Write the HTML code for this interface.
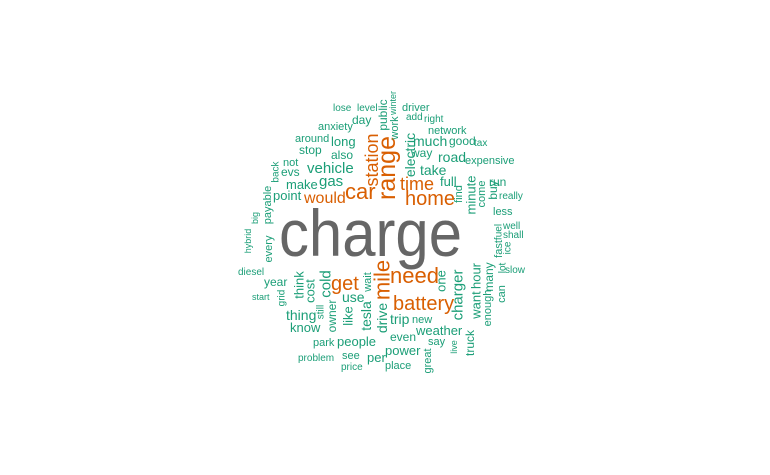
<!DOCTYPE html>
<html><head><meta charset="utf-8">
<style>
html,body{margin:0;padding:0;background:#fff;}
svg{display:block;}
text{font-family:"Liberation Sans",Arial,sans-serif;}
</style></head>
<body>
<svg id="cloud" width="770" height="475" viewBox="0 0 770 475"></svg>
<script>
// word, frequency-size, color class (0 gray,1 orange,2 teal), x, y, rotated
const words = ["charge","range","car","station","home","time","need","battery","mile","get","would",
"lose","level","day","anxiety","around","long","stop","also","not","evs","vehicle","gas","make","point",
"driver","add","right","network","much","good","tax","way","road","expensive","take","full","run","really","less","well","shall","slow",
"diesel","year","start","use","thing","know","park","people","problem","see","per","price","trip","new","weather","even","say","power","place",
"public","work","winter","electric","back","payable","big","hybrid","every","wait","cold","cost","think","grid","still","owner","like","tesla","drive",
"one","charger","hour","want","truck","many","enough","can","lot","fast","ice","fuel","live","great","minute","find","come","buy"];
const sizes = [66,25,22,18,20,18,22,20,22,20,16,
10,10,12,11,11,13,12,12,11,12,15,15,13,13,
11,10,10,11,14,12,10,12,14,11,14,13,12,10,11,10,10,10,
10,12,9,14,14,13,11,13,10,11,13,10,14,11,13,12,11,13,11,
12,11,9,14,10,11,9,9,11,11,15,13,13,10,10,12,13,14,14,
13,15,13,13,12,12,11,11,10,11,10,10,9,11,13,11,11,12];
const colors = [0,1,1,1,1,1,1,1,1,1,1,
2,2,2,2,2,2,2,2,2,2,2,2,2,2,
2,2,2,2,2,2,2,2,2,2,2,2,2,2,2,2,2,2,
2,2,2,2,2,2,2,2,2,2,2,2,2,2,2,2,2,2,2,
2,2,2,2,2,2,2,2,2,2,2,2,2,2,2,2,2,2,2,
2,2,2,2,2,2,2,2,2,2,2,2,2,2,2,2,2,2];
const palette = ["#666666","#D95F02","#1B9E77"];
// layout: [x, y, rot] (horizontal: left/baseline; vertical: center)
const layout = [[279,256,0],[387,168,1],[345,199,0],[372,160,1],[405,205,0],[400,190,0],[390,283,0],[393,310,0],[382,280,1],[331,290,0],[304,203,0],
[333,111,0],[357,111,0],[352,124,0],[318,130,0],[295,142,0],[331,146,0],[299,154,0],[331,159,0],[283,166,0],[281,176,0],[307,173,0],[319,186,0],[286,189,0],[273,200,0],
[402,111,0],[406,120,0],[424,122,0],[428,134,0],[413,146,0],[449,145,0],[474,146,0],[411,157,0],[438,162,0],[465,164,0],[420,175,0],[440,186,0],[489,186,0],[499,199,0],[493,215,0],[503,229,0],[503,238,0],[505,273,0],
[238,275,0],[264,286,0],[252,300,0],[342,302,0],[286,320,0],[290,332,0],[313,346,0],[337,346,0],[298,361,0],[342,359,0],[367,362,0],[341,370,0],[390,324,0],[412,323,0],[416,335,0],[390,341,0],[428,345,0],[385,355,0],[385,369,0],
[383,115,1],[395,128,1],[393,103,1],[410,155,1],[276,172,1],[268,205,1],[255,218,1],[248,241,1],[269,249,1],[368,282,1],[326,284,1],[310,291,1],[299,285,1],[282,298,1],[321,312,1],[332,316,1],[348,316,1],[366,316,1],[382,318,1],
[441,281,1],[458,295,1],[476,276,1],[476,305,1],[470,343,1],[489,277,1],[488,308,1],[502,294,1],[503,268,1],[499,249,1],[508,248,1],[499,232,1],[454,347,1],[428,361,1],[471,195,1],[459,194,1],[482,194,1],[493,190,1]];
const svg = document.getElementById('cloud');
const NS = "http://www.w3.org/2000/svg";
for (let i = 0; i < words.length; i++) {
  const t = document.createElementNS(NS, 'text');
  const [x, y, r] = layout[i];
  t.setAttribute('font-size', sizes[i]);
  t.setAttribute('fill', palette[colors[i]]);
  if (r) {
    t.setAttribute('text-anchor', 'middle');
    t.setAttribute('dominant-baseline', 'central');
    t.setAttribute('transform', 'translate(' + x + ',' + y + ') rotate(-90)');
  } else {
    t.setAttribute('x', x);
    t.setAttribute('y', y);
  }
  if (i === 0) { t.setAttribute('textLength', 183); t.setAttribute('lengthAdjust', 'spacingAndGlyphs'); }
  t.textContent = words[i];
  
  
  svg.appendChild(t);
}
</script>
</body></html>
